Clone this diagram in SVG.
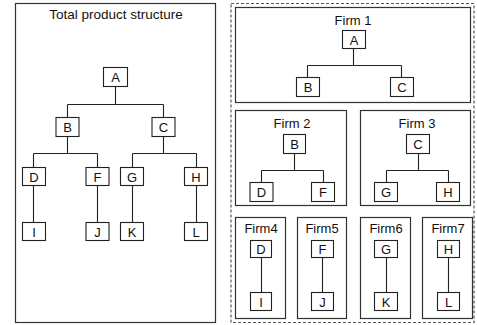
<svg xmlns="http://www.w3.org/2000/svg" width="477" height="325" viewBox="0 0 477 325">
<style>
.panel{fill:#fff;stroke:#333;stroke-width:1.2}
.dash{fill:none;stroke:#555;stroke-width:1.2;stroke-dasharray:3,2}
.box{fill:#fff;stroke:#222;stroke-width:1.1}
.ln{fill:none;stroke:#222;stroke-width:1.1}
text{font-family:"Liberation Sans",Arial,sans-serif;font-size:13px;fill:#111;text-anchor:middle}
.t{font-size:13px}
.title{font-size:13.5px}
</style>
<rect width="477" height="325" fill="#fff"/>
<g id="left-panel">
<rect class="panel" x="15.5" y="3.5" width="200" height="319"/>
<text class="title" x="116" y="19">Total product structure</text>
</g>
<rect class="dash" x="231" y="3.5" width="243" height="319"/>
<g id="firm1-panel"><rect class="panel" x="235.5" y="7.5" width="235" height="95"/><text class="t" x="353" y="25">Firm 1</text></g>
<g id="firm2-panel"><rect class="panel" x="235.5" y="110.5" width="111" height="95"/><text class="t" x="292" y="128">Firm 2</text></g>
<g id="firm3-panel"><rect class="panel" x="360.5" y="110.5" width="110" height="95"/><text class="t" x="417" y="128">Firm 3</text></g>
<g id="firm4-panel"><rect class="panel" x="235.5" y="217.5" width="50" height="101"/><text class="t" x="261" y="233">Firm4</text></g>
<g id="firm5-panel"><rect class="panel" x="297.5" y="217.5" width="49" height="101"/><text class="t" x="322" y="233">Firm5</text></g>
<g id="firm6-panel"><rect class="panel" x="360.5" y="217.5" width="50" height="101"/><text class="t" x="386" y="233">Firm6</text></g>
<g id="firm7-panel"><rect class="panel" x="422.5" y="217.5" width="50" height="101"/><text class="t" x="448" y="233">Firm7</text></g>
<g id="connectors">
<path class="ln" d="M115.5 86V104.5M67.5 104.5H163.5M67.5 104.5V117M163.5 104.5V117"/>
<path class="ln" d="M67.5 136V153.5M33.5 153.5H97.5M33.5 153.5V167M97.5 153.5V167"/>
<path class="ln" d="M163.5 136V153.5M132.5 153.5H196.5M132.5 153.5V167M196.5 153.5V167"/>
<path class="ln" d="M33.5 185V222M97.5 185V222M132.5 185V222M196.5 185V222"/>
<path class="ln" d="M353.5 48V65.5M307.5 65.5H401.5M307.5 65.5V77M401.5 65.5V77"/>
<path class="ln" d="M294.5 153V170.5M261.5 170.5H323.5M261.5 170.5V182M323.5 170.5V182"/>
<path class="ln" d="M418.5 153V170.5M386.5 170.5H448.5M386.5 170.5V182M448.5 170.5V182"/>
<path class="ln" d="M261.5 257V292M322.5 257V292M386.5 257V292M448.5 257V292"/>
</g>
<g id="tA"><rect class="box" x="103.5" y="67.5" width="24" height="19"/><text x="115.5" y="82">A</text></g>
<g id="tB"><rect class="box" x="56" y="117.5" width="23" height="19"/><text x="67.5" y="132">B</text></g>
<g id="tC"><rect class="box" x="152" y="117.5" width="23" height="19"/><text x="163.5" y="132">C</text></g>
<g id="tD"><rect class="box" x="22.5" y="167.5" width="23" height="18"/><text x="34" y="181.5">D</text></g>
<g id="tF"><rect class="box" x="86" y="167.5" width="23" height="18"/><text x="97.5" y="181.5">F</text></g>
<g id="tG"><rect class="box" x="120.5" y="167.5" width="23" height="18"/><text x="132" y="181.5">G</text></g>
<g id="tH"><rect class="box" x="184.5" y="167.5" width="23" height="18"/><text x="196" y="181.5">H</text></g>
<g id="tI"><rect class="box" x="22.5" y="222.5" width="23" height="18"/><text x="34" y="236.5">I</text></g>
<g id="tJ"><rect class="box" x="86" y="222.5" width="23" height="18"/><text x="97.5" y="236.5">J</text></g>
<g id="tK"><rect class="box" x="120.5" y="222.5" width="23" height="18"/><text x="132" y="236.5">K</text></g>
<g id="tL"><rect class="box" x="184.5" y="222.5" width="23" height="18"/><text x="196" y="236.5">L</text></g>
<g id="f1A"><rect class="box" x="342.5" y="30.5" width="23" height="18"/><text x="354" y="44.5">A</text></g>
<g id="f1B"><rect class="box" x="296.5" y="77.5" width="23" height="19"/><text x="308" y="92">B</text></g>
<g id="f1C"><rect class="box" x="390.5" y="77.5" width="23" height="19"/><text x="402" y="92">C</text></g>
<g id="f2B"><rect class="box" x="283.5" y="134.5" width="22" height="19"/><text x="294.5" y="149">B</text></g>
<g id="f2D"><rect class="box" x="250" y="182.5" width="23" height="19"/><text x="261.5" y="197">D</text></g>
<g id="f2F"><rect class="box" x="311.5" y="182.5" width="23" height="19"/><text x="323" y="197">F</text></g>
<g id="f3C"><rect class="box" x="406.5" y="134.5" width="23" height="19"/><text x="418" y="149">C</text></g>
<g id="f3G"><rect class="box" x="374.5" y="182.5" width="23" height="19"/><text x="386" y="197">G</text></g>
<g id="f3H"><rect class="box" x="436.5" y="182.5" width="23" height="19"/><text x="448" y="197">H</text></g>
<g id="f4D"><rect class="box" x="250.5" y="240.5" width="21" height="17"/><text x="261" y="254">D</text></g>
<g id="f4I"><rect class="box" x="250.5" y="292.5" width="21" height="18"/><text x="261" y="306.5">I</text></g>
<g id="f5F"><rect class="box" x="311.5" y="240.5" width="22" height="17"/><text x="322.5" y="254">F</text></g>
<g id="f5J"><rect class="box" x="311.5" y="292.5" width="22" height="18"/><text x="322.5" y="306.5">J</text></g>
<g id="f6G"><rect class="box" x="374.5" y="240.5" width="23" height="17"/><text x="386" y="254">G</text></g>
<g id="f6K"><rect class="box" x="374.5" y="292.5" width="23" height="18"/><text x="386" y="306.5">K</text></g>
<g id="f7H"><rect class="box" x="437.5" y="240.5" width="22" height="17"/><text x="448.5" y="254">H</text></g>
<g id="f7L"><rect class="box" x="437.5" y="292.5" width="22" height="18"/><text x="448.5" y="306.5">L</text></g>
</svg>
